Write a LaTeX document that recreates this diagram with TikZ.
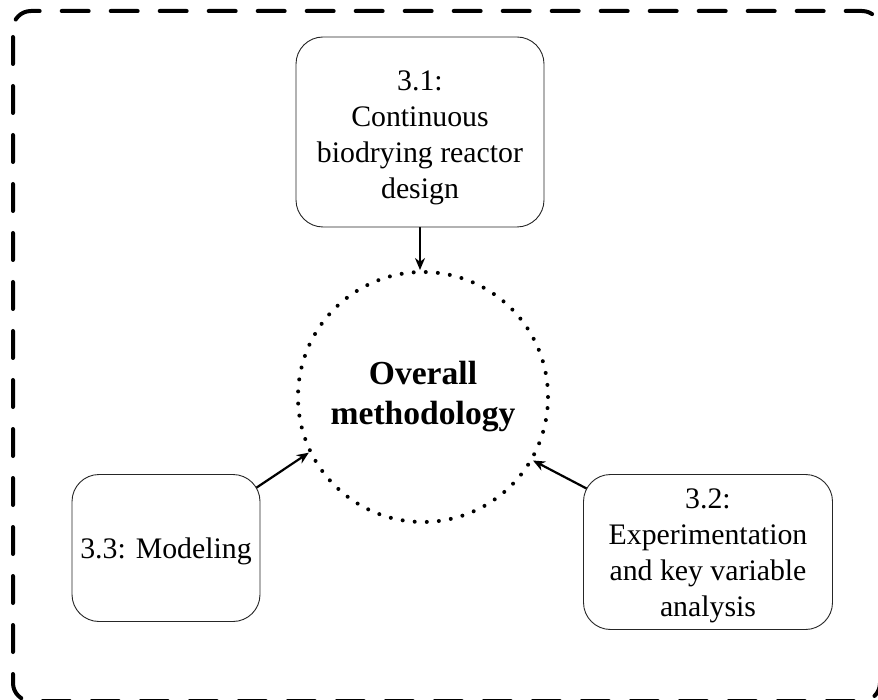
\documentclass[tikz,border=0pt]{standalone}
\usepackage{fontspec}
\setmainfont{Liberation Serif}
\usetikzlibrary{arrows.meta,backgrounds}
\tikzset{
  boxstyle/.style={draw=black!85, line width=0.9pt, rounded corners=27pt, fill=white,
    inner sep=0pt},
  labelstyle/.style={align=center, inner sep=0pt, font=\fontsize{29.8}{36}\selectfont},
  hubstyle/.style={circle, draw, line width=4pt, dash pattern=on 0pt off 12.1pt,
    line cap=round, minimum size=250pt, inner sep=0pt, align=center,
    font=\fontsize{33.6}{40}\selectfont\bfseries},
  linkarrow/.style={line width=2.2pt, -{Stealth[length=12pt,width=10pt]}},
  framestyle/.style={line width=4pt, dash pattern=on 27pt off 22pt, dash phase=-8pt,
    line cap=round, rounded corners=18pt}
}
\begin{document}
\begin{tikzpicture}[x=1pt,y=-1pt]
\useasboundingbox (0,0) rectangle (878,700);
\draw[framestyle] (13,11) rectangle (880,701);
\node[hubstyle] (c) at (423,397) {Overall\\methodology};
\node[boxstyle, minimum width=248pt, minimum height=190pt] (t) at (420,132) {};
\node[boxstyle, minimum width=188pt, minimum height=147pt] (l) at (166,548) {};
\node[boxstyle, minimum width=249pt, minimum height=155pt] (r) at (708,552) {};
\node[labelstyle] (tt) at (420,138) {3.1:\\Continuous\\biodrying reactor\\design};
\node[labelstyle] (lt) at (166,551) {3.3: Modeling};
\node[labelstyle] (rt) at (708,556) {3.2:\\Experimentation\\and key variable\\analysis};
\begin{scope}[on background layer]
\draw[linkarrow] (t.center) -- (t.center |- c.north);
\draw[linkarrow] (l.center) -- (c.206);
\draw[linkarrow] (r.center) -- (c.330);
\end{scope}
\end{tikzpicture}
\end{document}
